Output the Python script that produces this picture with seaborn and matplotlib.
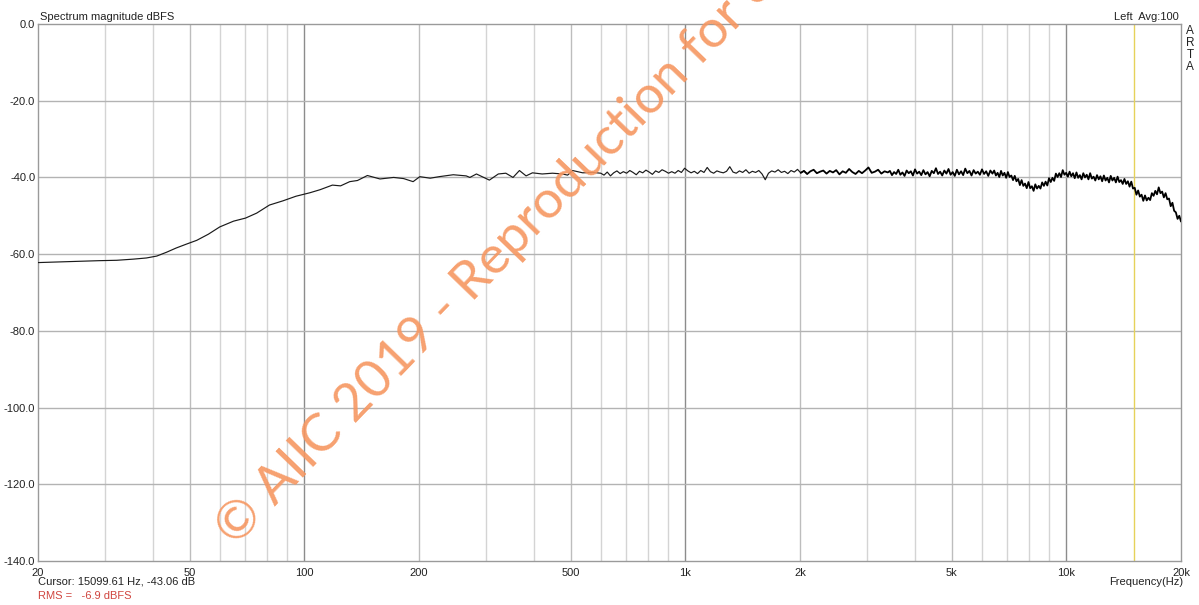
import numpy as np
import pandas as pd
import matplotlib
matplotlib.use("Agg")
import matplotlib.pyplot as plt
import seaborn as sns

# ---- measured spectrum ------------------------------------------------------
# low band, read point by point (Hz, dBFS)
low_freq = [20, 25, 29, 32.2, 35.6, 38.5, 41.0, 43.5, 46.1, 49.0, 52.2, 56.0,
            60.0, 65.2, 70.1, 75.0, 81, 87.9, 95.1, 103.4, 110.0, 118.5, 124.5,
            131.6, 137.9, 146.4, 158.0, 171.6, 182.3, 193, 201, 214, 226, 246,
            266, 272, 283, 306, 323, 338, 353, 367, 382, 397, 421, 448, 476,
            491, 506, 538, 572]
low_db = [-62.2, -61.9, -61.7, -61.6, -61.3, -61.0, -60.5, -59.5, -58.4, -57.4,
          -56.4, -54.8, -52.9, -51.4, -50.6, -49.3, -47.2, -46.1, -44.9, -44.0,
          -43.2, -42.0, -42.2, -41.1, -40.8, -39.5, -40.4, -40.0, -40.3, -41.1,
          -39.8, -40.2, -39.8, -39.3, -39.6, -40.0, -39.1, -40.7, -39.1, -38.9,
          -40.0, -38.2, -39.6, -38.8, -39.1, -38.9, -39.1, -39.4, -38.2, -38.8,
          -38.7]

# mid band 600 Hz - 3.4 kHz (log-spaced bins)
mid_db = [-38.9, -39.4, -38.6, -39.6, -38.8, -38.3, -39.0, -38.5, -38.9, -38.2,
          -38.7, -39.3, -38.4, -38.8, -38.1, -38.6, -39.2, -38.3, -38.7, -38.0,
          -38.4, -38.9, -38.5, -38.9, -38.2, -38.7, -37.6, -38.3, -38.8, -38.4,
          -39.0, -38.2, -38.7, -37.4, -38.5, -38.9, -38.3, -38.6, -38.8, -38.4,
          -37.2, -38.6, -38.9, -38.3, -38.7, -38.0, -38.9, -38.4, -38.7, -38.2,
          -39.1, -40.6, -38.9, -38.3, -38.6, -38.0, -38.7, -38.4, -39.0, -38.2,
          -38.6, -37.9, -38.8, -38.3, -39.1, -38.4, -38.0, -38.9, -38.5, -38.2,
          -39.0, -38.3, -38.7, -38.1, -39.2, -38.4, -38.8, -37.8, -38.6, -39.1,
          -38.3, -38.9, -38.2, -37.4, -38.8, -38.5, -38.0, -39.0, -38.4, -38.7]

# upper-mid band 3.4 kHz - 6.4 kHz
upmid_db = [-38.3, -39.4, -38.6, -39.1, -38.0, -39.3, -38.7, -39.6, -38.2, -38.9,
            -38.4, -39.5, -37.9, -39.0, -38.5, -39.4, -38.1, -39.2, -38.6, -39.7,
            -38.3, -38.9, -37.6, -39.1, -38.5, -39.5, -38.2, -39.0, -37.8, -39.3,
            -38.6, -39.6, -38.0, -39.2, -38.4, -39.4, -37.7, -38.9, -38.3, -39.5,
            -38.1, -39.0, -38.5, -39.3, -37.9, -39.1, -38.4, -39.6, -38.2, -39.0]

# high band 6.4 kHz - 20 kHz
high_db = [-38.2, -39.5, -38.8, -39.9, -38.3, -39.5, -38.8, -40.1, -38.6, -39.9,
           -39.5, -40.7, -39.6, -41.0, -40.4, -42.0, -40.7, -42.2, -41.6, -42.8,
           -41.2, -42.8, -42.3, -43.5, -41.8, -42.9, -42.2, -42.9, -41.3, -42.2,
           -41.1, -42.1, -40.2, -41.2, -40.1, -40.9, -39.0, -39.9, -38.9, -39.9,
           -38.1, -39.3, -38.8, -39.8, -38.5, -39.7, -38.9, -40.2, -38.7, -40.1,
           -39.4, -40.5, -38.9, -40.0, -39.3, -40.5, -38.9, -40.3, -39.8, -40.8,
           -39.4, -40.5, -39.7, -41.0, -39.5, -40.8, -40.1, -41.3, -39.6, -40.8,
           -40.1, -41.3, -39.8, -41.2, -40.7, -41.7, -40.4, -41.7, -41.0, -42.4,
           -41.1, -42.9, -42.7, -44.5, -43.4, -45.0, -44.5, -46.1, -44.7, -46.0,
           -45.3, -45.9, -44.1, -44.8, -43.5, -44.4, -42.6, -44.1, -43.7, -45.2,
           -44.1, -45.7, -45.5, -47.5, -46.6, -48.7, -49.1, -50.8, -50.0, -51.5]

mid_freq = np.geomspace(600, 3400, len(mid_db))
upmid_freq = np.geomspace(3400, 6400, len(upmid_db) + 1)[1:]
high_freq = np.geomspace(6400, 20000, len(high_db) + 1)[1:]

spectrum = pd.DataFrame({
    "freq": np.concatenate([low_freq, mid_freq, upmid_freq, high_freq]),
    "db": np.concatenate([low_db, mid_db, upmid_db, high_db]),
})

cursor_freq = 15099.61
cursor_db = -43.06
rms_dbfs = -6.9

x_ticks = [20, 50, 100, 200, 500, 1000, 2000, 5000, 10000, 20000]
x_labels = ["20", "50", "100", "200", "500", "1k", "2k", "5k", "10k", "20k"]
y_ticks = [0, -20, -40, -60, -80, -100, -120, -140]

# ---- figure ------------------------------------------------------------------
sns.set_theme(style="white")
plt.rcParams["font.family"] = ["Liberation Sans", "DejaVu Sans"]

W, H = 1199, 605
fig = plt.figure(figsize=(W / 100, H / 100), dpi=100)
x0, x1, y0, y1 = 38, 1181, 24, 561
ax = fig.add_axes([x0 / W, 1 - y1 / H, (x1 - x0) / W, (y1 - y0) / H])
ax.set_xscale("log")
ax.set_xlim(20, 20000)
ax.set_ylim(-140, 0)

# frequency grid: light lines on every 1-2-...-9 step, darker on decades
for dec in [10, 100, 1000, 10000]:
    for m in range(1, 10):
        f = dec * m
        if f <= 20 or f >= 20000:
            continue
        if m == 1:
            col = "#8c8c8c"
        elif f in x_ticks:
            col = "#bdbdbd"
        else:
            col = "#d4d4d4"
        ax.axvline(f, color=col, lw=1.0, zorder=1)
for yv in y_ticks[1:-1]:
    ax.axhline(yv, color="#b3b3b3", lw=1.0, zorder=1)

ax.axvline(cursor_freq, color="#e6d25a", lw=1.0, zorder=2)

# smooth low end thin, dense upper spectrum a touch heavier
lo = spectrum[spectrum["freq"] <= 2100]
hi = spectrum[spectrum["freq"] >= 2000]
sns.lineplot(data=lo, x="freq", y="db", ax=ax, color="#1a1a1a",
             lw=0.85, sort=False, estimator=None, zorder=3)
sns.lineplot(data=hi, x="freq", y="db", ax=ax, color="#000000",
             lw=1.3, sort=False, estimator=None, zorder=3)

ax.set_xticks(x_ticks)
ax.set_xticklabels(x_labels)
ax.xaxis.set_minor_locator(matplotlib.ticker.NullLocator())
ax.set_yticks(y_ticks)
ax.set_yticklabels([f"{v:.1f}" for v in y_ticks])
ax.tick_params(axis="both", length=0, labelsize=8, colors="#222222")
ax.tick_params(axis="x", pad=5)
ax.tick_params(axis="y", pad=2)
ax.set_xlabel("")
ax.set_ylabel("")
for sp in ax.spines.values():
    sp.set_color("#9a9a9a")
    sp.set_linewidth(1.0)

# header and footer texts
fig.text(40 / W, 1 - 20 / H, "Spectrum magnitude dBFS", fontsize=8,
         color="#222222", ha="left", va="baseline")
fig.text(1179 / W, 1 - 20 / H, "Left  Avg:100", fontsize=8,
         color="#222222", ha="right", va="baseline")
fig.text(1190 / W, 1 - 25 / H, "A\nR\nT\nA", fontsize=8.5, color="#222222",
         ha="center", va="top", linespacing=1.0)
fig.text(1183 / W, 1 - 585 / H, "Frequency(Hz)", fontsize=8,
         color="#222222", ha="right", va="baseline")
fig.text(38 / W, 1 - 585 / H,
         f"Cursor: {cursor_freq:.2f} Hz, {cursor_db:.2f} dB", fontsize=8,
         color="#222222", ha="left", va="baseline")
fig.text(38 / W, 1 - 599 / H, f"RMS =   {rms_dbfs:.1f} dBFS", fontsize=8,
         color="#d0453f", ha="left", va="baseline")

# copyright overlay
fig.text(236 / W, 1 - 548 / H, "© AIIC 2019 - Reproduction for other purposes",
         fontsize=38, family=["Lato", "DejaVu Sans"], fontweight="normal",
         color="#f69660", alpha=0.9, rotation=46, rotation_mode="anchor",
         ha="left", va="baseline", zorder=10)

fig.savefig("out.png", dpi=100)
